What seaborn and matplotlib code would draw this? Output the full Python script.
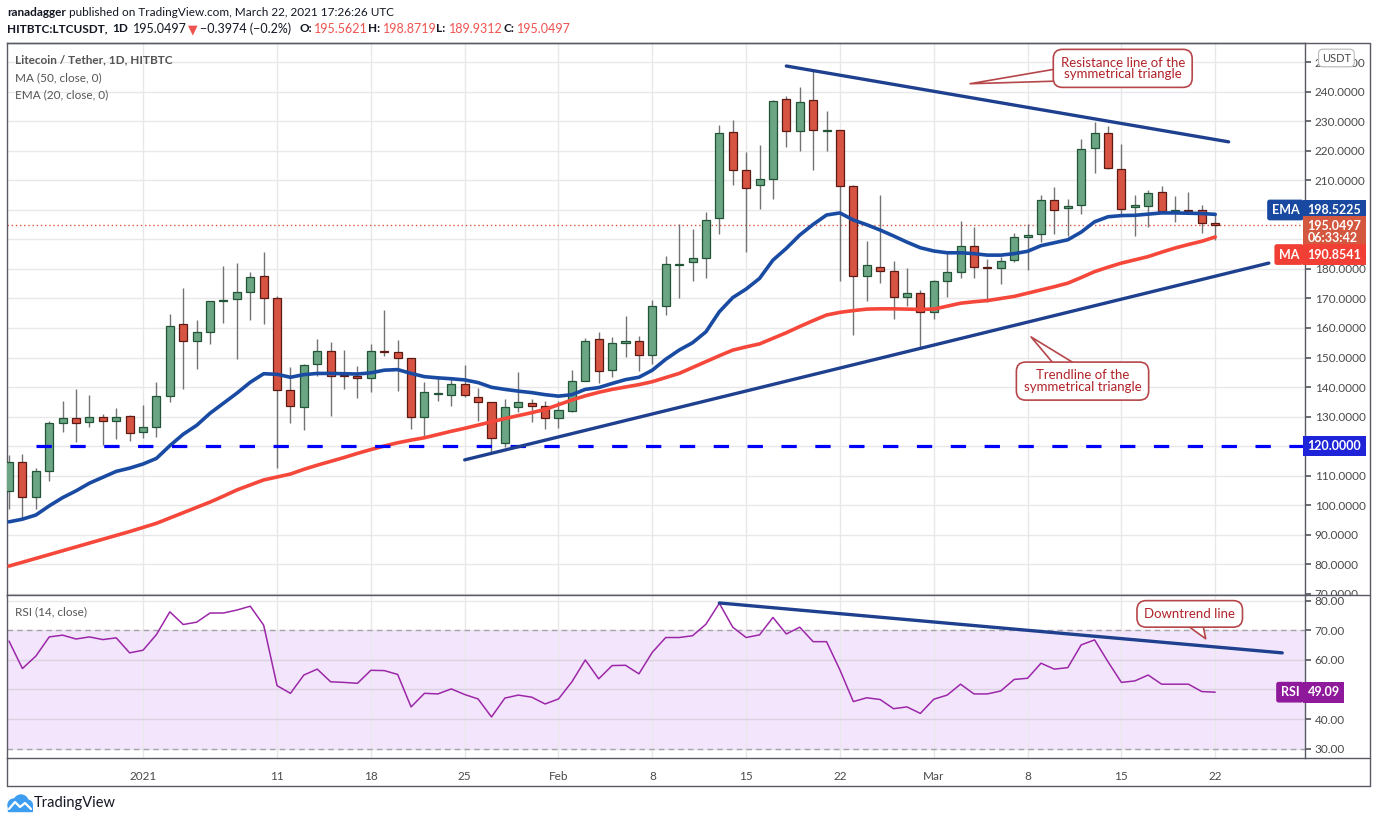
import numpy as np
import pandas as pd
import matplotlib
matplotlib.use("Agg")
import matplotlib.pyplot as plt
import matplotlib.transforms as mtransforms
from matplotlib.patches import Circle, Rectangle
from matplotlib.lines import Line2D
import seaborn as sns

# ---- data (LTC/USDT daily, Dec 22 2020 - Mar 22 2021) ----
start_date = "2020-12-22"
end_date = "2021-03-22"

opens = [104.6, 114.5, 102.6, 111.4, 127.7, 129.4, 128.0, 129.7, 128.6, 130.1,
         124.6, 126.3, 136.8, 161.2, 155.5, 158.5, 169.0, 169.7, 172.1, 177.5,
         170.1, 138.9, 133.3, 147.7, 152.1, 143.9, 143.6, 142.9, 152.1, 151.7,
         149.7, 129.7, 137.5, 137.2, 140.9, 136.7, 134.8, 120.9, 133.1, 134.5,
         133.4, 129.4, 131.8, 142.2, 156.2, 145.6, 154.8, 155.5, 150.7, 167.4,
         181.5, 182.3, 183.7, 197.2, 226.3, 213.5, 208.4, 210.4, 237.5, 226.7,
         237.2, 226.8, 227.0, 208.0, 177.5, 180.6, 179.3, 170.4, 171.8, 165.3,
         175.8, 178.9, 187.7, 180.6, 180.3, 183.0, 191.0, 191.8, 203.3, 200.6,
         201.7, 221.0, 226.0, 213.8, 200.9, 201.3, 206.0, 199.6, 199.9, 199.9, 195.56]
highs = [117.0, 117.3, 112.4, 128.5, 135.3, 139.3, 137.3, 130.8, 132.8, 130.5,
         133.9, 141.6, 164.7, 173.5, 162.7, 169.3, 181.0, 182.0, 179.0, 185.8,
         170.7, 146.8, 147.9, 156.2, 155.1, 152.4, 147.0, 154.5, 166.0, 155.8,
         149.8, 141.6, 143.6, 142.6, 147.4, 139.5, 134.8, 135.8, 145.2, 136.1,
         135.1, 135.3, 145.7, 156.5, 158.5, 156.9, 164.1, 157.2, 169.5, 184.3,
         195.1, 193.4, 199.2, 228.7, 230.4, 219.6, 221.9, 237.2, 238.5, 241.6,
         247.0, 233.4, 227.0, 208.3, 189.4, 205.1, 182.6, 180.2, 172.8, 176.1,
         185.3, 196.2, 194.1, 183.3, 184.0, 192.1, 195.1, 205.0, 207.7, 203.7,
         224.0, 229.9, 228.4, 222.3, 205.0, 206.7, 208.0, 204.6, 206.0, 201.6, 198.87]
lows = [98.5, 95.4, 98.5, 108.2, 124.9, 121.5, 126.5, 120.3, 122.4, 121.8,
        122.8, 122.9, 135.0, 139.2, 146.2, 154.7, 161.8, 149.6, 162.8, 161.4,
        112.6, 127.9, 125.5, 143.6, 130.3, 139.4, 136.4, 138.4, 150.4, 138.5,
        125.6, 122.9, 135.1, 133.7, 136.5, 128.4, 117.9, 119.5, 131.4, 128.0,
        125.6, 126.0, 131.5, 141.9, 141.2, 143.5, 150.1, 145.3, 147.7, 164.3,
        170.0, 175.8, 176.8, 191.8, 208.6, 185.7, 200.2, 203.6, 221.2, 219.9,
        213.5, 219.9, 175.8, 157.5, 169.0, 175.1, 163.0, 167.4, 153.4, 163.2,
        170.6, 176.8, 177.1, 168.7, 174.8, 182.3, 179.6, 189.0, 191.8, 191.1,
        198.5, 212.4, 213.8, 197.9, 191.1, 194.1, 199.2, 195.8, 198.5, 192.1, 189.93]
closes = [114.5, 102.6, 111.4, 127.7, 129.4, 127.7, 129.7, 128.6, 129.7, 124.3,
          126.3, 136.8, 160.8, 155.5, 158.5, 169.0, 169.4, 172.1, 177.2, 170.1,
          138.9, 133.5, 147.4, 152.1, 143.6, 143.6, 142.9, 152.1, 151.7, 149.7,
          129.7, 138.2, 137.6, 140.9, 137.2, 134.8, 122.6, 133.1, 134.8, 133.4,
          129.4, 132.1, 141.9, 155.5, 145.3, 154.8, 155.5, 150.7, 167.4, 181.6,
          181.8, 183.7, 196.5, 226.0, 213.5, 207.3, 210.4, 236.8, 226.7, 236.5,
          227.0, 227.0, 208.0, 177.5, 181.2, 179.3, 170.4, 171.8, 165.3, 175.8,
          178.9, 187.7, 180.6, 180.3, 182.6, 190.7, 191.4, 203.3, 199.9, 201.3,
          220.6, 226.0, 214.1, 200.2, 201.6, 205.7, 199.6, 199.9, 199.6, 195.5, 195.05]

ema20 = [94.3, 95.2, 96.6, 99.7, 102.5, 104.8, 107.4, 109.4, 111.4, 112.5,
         113.9, 115.8, 120.1, 124.0, 127.0, 131.1, 134.5, 137.9, 141.6, 144.5,
         144.3, 143.3, 144.2, 144.6, 144.6, 144.5, 144.4, 144.8, 145.7, 145.9,
         144.6, 143.5, 143.1, 142.8, 142.4, 141.5, 139.9, 139.2, 138.6, 138.1,
         137.4, 136.9, 137.4, 139.2, 139.8, 141.2, 142.5, 143.3, 145.7, 149.4,
         152.5, 155.0, 158.7, 165.5, 170.3, 173.2, 176.8, 183.0, 187.0, 191.5,
         195.1, 198.3, 199.0, 196.6, 195.0, 193.2, 191.2, 189.1, 187.2, 186.1,
         185.5, 185.5, 185.2, 184.7, 184.7, 185.2, 186.0, 187.9, 188.9, 189.9,
         192.5, 196.0, 197.7, 198.1, 198.2, 198.6, 199.0, 199.0, 198.9, 198.8, 198.52]
ma50 = [79.3, 80.6, 81.9, 83.2, 84.5, 85.8, 87.1, 88.4, 89.7, 91.0,
        92.4, 93.8, 95.6, 97.4, 99.2, 101.0, 103.0, 105.1, 106.8, 108.5,
        109.5, 110.5, 112.1, 113.5, 114.8, 116.1, 117.5, 118.8, 120.0, 121.1,
        122.0, 122.8, 123.9, 125.0, 126.0, 127.1, 128.2, 129.3, 130.3, 131.3,
        132.4, 134.0, 135.6, 137.0, 138.2, 139.2, 140.0, 140.8, 141.8, 143.2,
        144.6, 146.6, 148.6, 150.6, 152.5, 153.6, 154.6, 156.5, 158.4, 160.5,
        162.5, 164.4, 165.3, 165.9, 166.4, 166.5, 166.5, 166.4, 166.3, 166.4,
        167.4, 168.4, 168.9, 169.3, 170.0, 170.7, 171.8, 172.9, 174.0, 175.2,
        177.1, 179.1, 180.6, 182.0, 183.1, 184.2, 185.7, 187.1, 188.3, 189.4, 190.85]
rsi14 = [66.4, 57.1, 61.3, 67.8, 68.4, 67.1, 67.8, 66.9, 67.5, 62.4,
         63.3, 68.6, 76.3, 72.0, 72.8, 75.9, 75.9, 76.9, 78.2, 71.8,
         51.3, 48.7, 54.9, 56.9, 52.6, 52.4, 52.1, 56.5, 56.4, 55.1,
         44.1, 48.7, 48.5, 50.2, 48.3, 46.8, 40.7, 47.1, 48.1, 47.4,
         45.1, 46.8, 52.6, 60.0, 53.6, 58.1, 58.2, 55.3, 62.6, 67.6,
         67.6, 68.2, 72.1, 79.2, 71.1, 67.6, 68.5, 74.4, 68.8, 71.1,
         66.2, 66.2, 56.6, 45.9, 47.2, 46.6, 43.5, 44.1, 41.9, 46.7,
         48.1, 51.8, 48.5, 48.5, 49.5, 53.4, 53.8, 58.9, 56.9, 57.4,
         65.1, 66.8, 59.4, 52.4, 52.9, 54.9, 51.8, 51.8, 51.8, 49.3, 49.09]

# drawn lines on the chart
resist_dates = ["2021-02-18", "2021-03-23"]
resist_vals = [248.8, 223.1]
support_dates = ["2021-01-25", "2021-03-26"]
support_vals = [115.3, 182.0]
rsi_trend_dates = ["2021-02-13", "2021-03-27"]
rsi_trend_vals = [79.3, 62.4]
level_start = "2020-12-24"
level_value = 120

tick_dates = ["2021-01-01", "2021-01-11", "2021-01-18", "2021-01-25", "2021-02-01", "2021-02-08",
              "2021-02-15", "2021-02-22", "2021-03-01", "2021-03-08", "2021-03-15", "2021-03-22"]
tick_labels = ["2021", "11", "18", "25", "Feb", "8", "15", "22", "Mar", "8", "15", "22"]

# ---- helpers ----
W, H = 1376, 823
ORIGIN = pd.Timestamp("2021-01-01")


def day_num(d):
    return (pd.to_datetime(d) - ORIGIN).days


def fx(px):
    return px / W


def fy(py):
    return 1 - py / H


dates = pd.date_range(start_date, end_date, freq="D")
x = np.array([(d - ORIGIN).days for d in dates])
df = pd.DataFrame({"day": x, "open": opens, "high": highs, "low": lows, "close": closes,
                   "ema": ema20, "ma": ma50, "rsi": rsi14})

sns.set_theme(style="white")
plt.rcParams["font.family"] = ["Lato", "DejaVu Sans"]

GRID = "#e8e8ea"
FRAME = "#585b63"
TXT = "#4a4a4a"

fig = plt.figure(figsize=(W / 100, H / 100), dpi=100)
fig.patch.set_facecolor("white")

ax = fig.add_axes([fx(7), fy(595), fx(1305) - fx(7), fy(43) - fy(595)])
ax_rsi = fig.add_axes([fx(7), fy(758), fx(1305) - fx(7), fy(595) - fy(758)], sharex=ax)

# ---- main panel ----
ax.set_xlim(-10.15, 86.7)
ax.set_ylim(69.5, 256.6)
price_ticks = np.arange(70, 251, 10)
ax.set_yticks(price_ticks)
# labels under the price-scale tags are hidden, as on the chart
hidden = {120, 190, 200}
ax.set_yticklabels(["" if v in hidden else f"{v:.4f}" for v in price_ticks])
ax.yaxis.tick_right()
ax.tick_params(axis="y", length=4, color=FRAME, labelsize=8.5, labelcolor=TXT, pad=3)
ax.tick_params(axis="x", length=0, labelbottom=False)
ax.grid(True, color=GRID, lw=1)
ax.set_axisbelow(True)
for sp in ax.spines.values():
    sp.set_color(FRAME)
    sp.set_linewidth(1)
# price scale labels are cut at the panel edge
scale_clip = mtransforms.TransformedBbox(
    mtransforms.Bbox([[fx(1305), fy(595)], [1.0, fy(43)]]), fig.transFigure)
for tick in ax.yaxis.get_major_ticks():
    tick.label2.set_clip_box(scale_clip)
    tick.label2.set_clip_on(True)

# candles
up = df["close"] >= df["open"]
body_lo = np.minimum(df["open"], df["close"])
body_h = np.maximum(np.abs(df["close"] - df["open"]), 0.35)
ax.vlines(df["day"], df["low"], df["high"], color="#737375", lw=1, zorder=2)
ax.bar(df["day"][up], body_h[up], bottom=body_lo[up], width=0.6,
       color="#6ba583", edgecolor="#225437", lw=0.9, zorder=3)
ax.bar(df["day"][~up], body_h[~up], bottom=body_lo[~up], width=0.6,
       color="#d75442", edgecolor="#5b1a13", lw=0.9, zorder=3)

# moving averages
sns.lineplot(data=df, x="day", y="ma", ax=ax, color="#f6473b", lw=2.6, zorder=4)
sns.lineplot(data=df, x="day", y="ema", ax=ax, color="#1a4ba3", lw=2.6, zorder=4)

# horizontal level + last price line
ax.plot([day_num(level_start), 86.7], [level_value, level_value], color="#0000ff",
        lw=2.3, dashes=(4.8, 5.8), zorder=4)
ax.axhline(closes[-1], color="#e0533c", lw=1, ls=(0, (1, 2)), zorder=1)

# trendlines of the triangle
tl_color = "#1f3f8f"
ax.plot([day_num(d) for d in resist_dates], resist_vals, color=tl_color, lw=2.4, zorder=5,
        solid_capstyle="round")
ax.plot([day_num(d) for d in support_dates], support_vals, color=tl_color, lw=2.4, zorder=5,
        solid_capstyle="round")
ax.set_xlabel("")
ax.set_ylabel("")


# callouts
def callout(axis, text, xy, xytext):
    axis.annotate(text, xy=xy, xytext=xytext, ha="center", va="center", fontsize=9.5,
                  color="#b0242a", linespacing=0.95, zorder=8,
                  bbox=dict(boxstyle="round,pad=0.55,rounding_size=0.7", fc="white",
                            ec="#b5474b", lw=1.2),
                  arrowprops=dict(arrowstyle="wedge,tail_width=1.6,shrink_factor=0.5",
                                  fc="white", ec="#b5474b", lw=1.2, patchA=None))


callout(ax, "Resistance line of the\nsymmetrical triangle", (61.5, 242.7), (73.1, 248.0))
callout(ax, "Trendline of the\nsymmetrical triangle", (66.1, 157.6), (70.1, 142.0))

ax.text(8 / 1298, 1 - 17 / 552, "Litecoin / Tether, 1D, HITBTC", transform=ax.transAxes,
        fontsize=8.5, color="#555", fontweight="bold", va="center")
ax.text(8 / 1298, 1 - 35 / 552, "MA (50, close, 0)", transform=ax.transAxes,
        fontsize=8.5, color="#555", va="center")
ax.text(8 / 1298, 1 - 52 / 552, "EMA (20, close, 0)", transform=ax.transAxes,
        fontsize=8.5, color="#555", va="center")

# price scale tags (stacked so they do not cover each other, as on the chart)
blend = mtransforms.blended_transform_factory(ax.transAxes, ax.transData)


def scale_tag(axis, trans, y, text, color, tag=None, size=9):
    axis.text(1.002, y, text, transform=trans, fontsize=size, color="white", fontweight="bold",
              va="center", ha="left", zorder=9,
              bbox=dict(boxstyle="square,pad=0.35", fc=color, ec="none"))
    if tag:
        axis.text(0.9955, y, tag, transform=trans, fontsize=size, color="white", fontweight="bold",
                  va="center", ha="right", zorder=9,
                  bbox=dict(boxstyle="round,pad=0.35,rounding_size=0.2", fc=color, ec="none"))


scale_tag(ax, blend, 200.0, f"{ema20[-1]:.2f}25", "#1848a0", "EMA")
ax.text(1.002, 196.6, "195.0497\n06:33:42", transform=blend, fontsize=9, color="white",
        fontweight="bold", va="top", ha="left", linespacing=1.0, zorder=9,
        bbox=dict(boxstyle="square,pad=0.35", fc="#d4573f", ec="none"))
scale_tag(ax, blend, 184.9, "190.8541", "#f23f35", "MA")
scale_tag(ax, blend, level_value, "120.0000", "#1f24d8")
ax.text(1.013, 1 - 15 / 552, "USDT", transform=ax.transAxes, fontsize=8, color=TXT,
        va="center", ha="left", zorder=9,
        bbox=dict(boxstyle="round,pad=0.3,rounding_size=0.4", fc="white", ec="#b8b8b8", lw=0.8))

# ---- RSI panel ----
ax_rsi.set_ylim(26.8, 82)
rsi_ticks = np.arange(30, 81, 10)
ax_rsi.set_yticks(rsi_ticks)
ax_rsi.set_yticklabels(["" if v == 50 else f"{v:.2f}" for v in rsi_ticks])
ax_rsi.yaxis.tick_right()
ax_rsi.tick_params(axis="y", length=4, color=FRAME, labelsize=8.5, labelcolor=TXT, pad=3)
ax_rsi.set_xticks([day_num(d) for d in tick_dates])
ax_rsi.set_xticklabels(tick_labels)
ax_rsi.tick_params(axis="x", length=4, color=FRAME, labelsize=8.5, labelcolor=TXT, pad=5)
ax_rsi.grid(True, color=GRID, lw=1)
ax_rsi.set_axisbelow(True)
for sp in ax_rsi.spines.values():
    sp.set_color(FRAME)
    sp.set_linewidth(1)
ax_rsi.axhspan(30, 70, color="#f3e6fc", zorder=0.5, lw=0)
for lvl in (40, 50, 60):
    ax_rsi.axhline(lvl, color="#dcd2e4", lw=1, zorder=0.6)
for lvl in (30, 70):
    ax_rsi.axhline(lvl, color="#a8a2ad", lw=1, dashes=(4, 3), zorder=0.7)
sns.lineplot(data=df, x="day", y="rsi", ax=ax_rsi, color="#9c27a8", lw=1.1, zorder=3)
ax_rsi.plot([day_num(d) for d in rsi_trend_dates], rsi_trend_vals, color=tl_color, lw=2.4,
            zorder=5, solid_capstyle="round")
ax_rsi.set_xlabel("")
ax_rsi.set_ylabel("")
ax_rsi.text(8 / 1298, 1 - 17 / 163, "RSI (14, close)", transform=ax_rsi.transAxes,
            fontsize=8.5, color="#555", va="center")
callout(ax_rsi, "Downtrend line", (79.4, 66.4), (78.1, 75.6))
blend_rsi = mtransforms.blended_transform_factory(ax_rsi.transAxes, ax_rsi.transData)
scale_tag(ax_rsi, blend_rsi, rsi14[-1], "49.09", "#8e1a9b", "RSI")

# ---- outer frame ----
for (x0, y0, x1, y1) in [(7, 43, 1370, 43), (1370, 43, 1370, 786), (7, 786, 1370, 786),
                         (7, 758, 7, 786), (1305, 758, 1370, 758), (1305, 595, 1370, 595)]:
    fig.add_artist(Line2D([fx(x0), fx(x1)], [fy(y0), fy(y1)], color=FRAME, lw=1))

# ---- header ----
renderer = fig.canvas.get_renderer()
DARK = "#131722"
RED = "#ef5350"

xp = 7
for s, weight in [("ranadagger", "bold"),
                  (" published on TradingView.com, March 22, 2021 17:26:26 UTC", "normal")]:
    t = fig.text(fx(xp), fy(12), s, color=DARK, fontweight=weight, fontsize=8.5,
                 va="center", ha="left")
    xp += t.get_window_extent(renderer).width

# second header line, pieces placed where they sit on the chart
for xpos, s, color, weight in [(7, "HITBTC:LTCUSDT,", DARK, "bold"),
                               (112, "1D", DARK, "bold"),
                               (133, "195.0497", DARK, "normal"),
                               (188, "▼", RED, "normal"),
                               (200, "\u22120.3974 (\u22120.2%)", DARK, "normal"),
                               (299, "O:", DARK, "bold"), (314, "195.5621", RED, "normal"),
                               (368, "H:", DARK, "bold"), (383, "198.8719", RED, "normal"),
                               (436, "L:", DARK, "bold"), (449, "189.9312", RED, "normal"),
                               (503, "C:", DARK, "bold"), (517, "195.0497", RED, "normal")]:
    fig.text(fx(xpos), fy(29), s, color=color, fontweight=weight,
             fontsize=8.5 if weight == "bold" else 9, va="center", ha="left")

# ---- TradingView logo ----
ax_logo = fig.add_axes([fx(6), fy(813), fx(33) - fx(6), fy(793) - fy(813)])
ax_logo.set_xlim(0, 27)
ax_logo.set_ylim(0, 20)
ax_logo.axis("off")
logo_blue = "#3d9df0"
for c in [Circle((8, 8), 6, color=logo_blue), Circle((15, 11), 7, color=logo_blue),
          Circle((21, 7.5), 5.5, color=logo_blue), Rectangle((2, 2), 24, 6.5, color=logo_blue)]:
    ax_logo.add_patch(c)
ax_logo.plot([3, 9, 14, 19, 25], [4, 11, 6, 10, 4], color="white", lw=1.6)
fig.text(fx(34), fy(803), "TradingView", fontsize=10.5, color=DARK, va="center", ha="left")

fig.savefig("out.png", dpi=100, facecolor="white")
